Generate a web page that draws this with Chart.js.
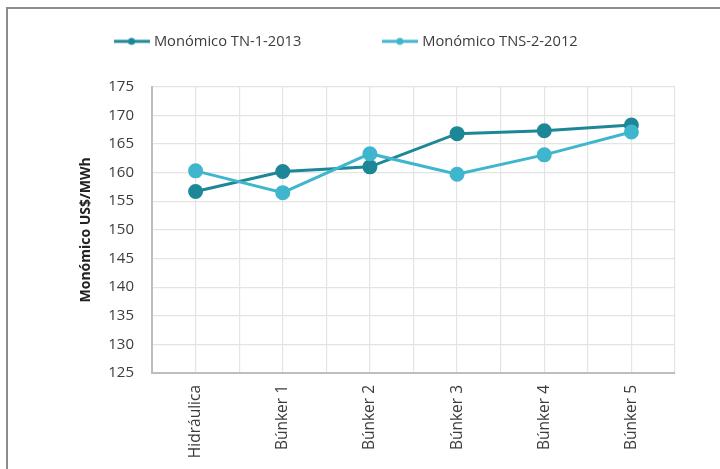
<!DOCTYPE html>
<html lang="es">
<head>
  <meta charset="UTF-8">
  <title>Monómico US$/MWh</title>
  <script src="https://cdn.jsdelivr.net/npm/chart.js"></script>
  <style>
    body {
      margin: 0;
      background: #ffffff;
    }

    /* marco gris arriba e izquierda */
    #frame {
      position: absolute;
      left: 6px;
      top: 7px;
      width: 720px;
      height: 469px;
      border-top: 2px solid #8c8c8c;
      border-left: 2px solid #8c8c8c;
    }

    #chart-container {
      position: absolute;
      left: 0;
      top: 0;
      width: 720px;
      height: 469px;
    }
  </style>
</head>
<body>
<div id="frame"></div>
<div id="chart-container">
  <canvas id="monoChart"></canvas>
</div>
<script>
  // Datos
  const categories = ['Hidráulica', 'Búnker 1', 'Búnker 2', 'Búnker 3', 'Búnker 4', 'Búnker 5'];
  const tn2013 = [156.7, 160.2, 161.0, 166.8, 167.3, 168.3];
  const tns2012 = [160.3, 156.5, 163.3, 159.7, 163.1, 167.1];
  const yMin = 125, yMax = 175, yStep = 5;

  const darkColor = '#1d8798';
  const lightColor = '#3fb6cd';
  const textColor = '#3c3c3c';

  // icono de leyenda: línea con punto (un poco más ancho que la caja)
  function legendIcon(color) {
    const c = document.createElement('canvas');
    c.width = 36;
    c.height = 10;
    const g = c.getContext('2d');
    g.strokeStyle = color;
    g.lineWidth = 3;
    g.beginPath();
    g.moveTo(0, 5);
    g.lineTo(36, 5);
    g.stroke();
    g.fillStyle = color;
    g.beginPath();
    g.arc(18, 5, 3.5, 0, Math.PI * 2);
    g.fill();
    return c;
  }

  function toPoints(values) {
    return values.map((v, i) => ({ x: i, y: v }));
  }

  // espacio extra debajo de la leyenda
  const legendSpacer = {
    id: 'legendSpacer',
    beforeInit(chart) {
      const fit = chart.legend.fit;
      chart.legend.fit = function () {
        fit.bind(chart.legend)();
        this.height += 28;
      };
    }
  };

  const ctx = document.getElementById('monoChart').getContext('2d');
  new Chart(ctx, {
    type: 'line',
    data: {
      datasets: [
        {
          label: 'Monómico TN-1-2013',
          data: toPoints(tn2013),
          borderColor: darkColor,
          backgroundColor: darkColor,
          borderWidth: 3,
          pointRadius: 6,
          pointHoverRadius: 6,
          fill: false,
          order: 2
        },
        {
          label: 'Monómico TNS-2-2012',
          data: toPoints(tns2012),
          borderColor: lightColor,
          backgroundColor: lightColor,
          borderWidth: 3,
          pointRadius: 6,
          pointHoverRadius: 6,
          fill: false,
          order: 1
        }
      ]
    },
    options: {
      responsive: true,
      maintainAspectRatio: false,
      animation: false,
      layout: { padding: { left: 78, right: 45, top: 24, bottom: 0 } },
      plugins: {
        tooltip: { enabled: false },
        legend: {
          position: 'top',
          labels: {
            usePointStyle: true,
            pointStyleWidth: 30,
            padding: 10,
            color: textColor,
            font: { family: 'Open Sans', size: 14.7 },
            generateLabels(chart) {
              return chart.data.datasets
                .slice()
                .sort((a, b) => b.order - a.order)
                .map((ds, i) => ({
                  text: ds.label + (i === 0 ? '\u2003\u2003\u2003\u2003\u2003' : '\u2003\u2003\u2003\u2003'),
                  pointStyle: legendIcon(ds.borderColor),
                  fillStyle: ds.borderColor,
                  strokeStyle: ds.borderColor,
                  lineWidth: 0,
                  fontColor: textColor,
                  datasetIndex: chart.data.datasets.indexOf(ds)
                }));
            }
          }
        }
      },
      scales: {
        x: {
          type: 'linear',
          min: -0.5,
          max: categories.length - 0.5,
          afterFit: (scale) => { scale.height = 96; },
          ticks: {
            stepSize: 0.5,
            autoSkip: false,
            minRotation: 90,
            maxRotation: 90,
            padding: 12,
            color: textColor,
            font: { family: 'Open Sans', size: 15.5 },
            callback: (v) => {
              const i = Math.round(v);
              return Math.abs(v - i) < 1e-6 ? categories[i] : '';
            }
          },
          grid: { color: '#e4e4e4', lineWidth: 1.2, drawTicks: false },
          border: { color: '#bdbdbd', width: 2 }
        },
        y: {
          min: yMin,
          max: yMax,
          afterFit: (scale) => { scale.width = 74; },
          ticks: {
            stepSize: yStep,
            padding: 18,
            color: textColor,
            font: { family: 'Open Sans', size: 15 }
          },
          grid: { color: '#e4e4e4', lineWidth: 1.2, drawTicks: false },
          border: { color: '#bdbdbd', width: 2 },
          title: {
            display: true,
            text: 'Monómico US$/MWh',
            color: '#222222',
            padding: { top: 0, bottom: 0 },
            font: { family: 'Open Sans', size: 14, weight: 'bold' }
          }
        }
      }
    },
    plugins: [legendSpacer]
  });
</script>
</body>
</html>
